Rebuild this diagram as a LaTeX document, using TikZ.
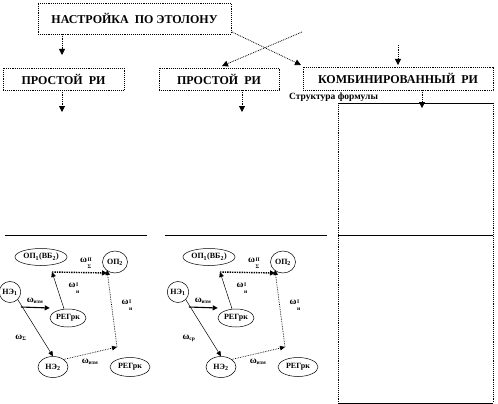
\documentclass[tikz,border=0pt]{standalone}
\usepackage{fontspec}
\setmainfont{Liberation Serif}
\usetikzlibrary{arrows.meta,shapes.geometric}
\newcommand\om[2]{\mbox{ω}\hspace{0.4pt}\raisebox{-2.6pt}{\fontsize{5.5}{7}\selectfont\begin{tabular}{@{}l@{}}#1\\#2\end{tabular}}}
\newcommand\oms[1]{\mbox{ω}\textsubscript{\fontsize{5.5}{5.5}\selectfont #1}}
\tikzset{
 box/.style={draw, densely dotted, line width=0.9pt, font=\bfseries\fontsize{12}{12}\selectfont, inner sep=0pt},
 arr/.style={densely dotted, line width=0.8pt, -{Triangle[length=6pt,width=6pt]}},
 gn/.style={draw, ellipse, line width=0.5pt, inner sep=0pt, font=\bfseries\fontsize{8}{8}\selectfont},
 ga/.style={line width=0.5pt, -{Triangle[length=5pt,width=4.5pt]}},
 gd/.style={densely dotted, line width=0.7pt, -{Triangle[length=5pt,width=4.5pt]}},
 gthick/.style={line width=1.1pt, -{Triangle[length=5pt,width=5pt]}},
 gthickd/.style={densely dotted, line width=1.4pt, -{Triangle[length=5pt,width=5pt]}},
 lb/.style={font=\bfseries\fontsize{9.5}{9.5}\selectfont, inner sep=0pt},
 solidln/.style={line width=0.9pt},
 dotln/.style={densely dotted, line width=0.9pt},
}
\begin{document}
\begin{tikzpicture}[x=1pt,y=-1pt]
\useasboundingbox (0,0) rectangle (498,404);
% top boxes
\node[box, minimum width=193pt, minimum height=31pt] (top) at (134.5,18.5) {НАСТРОЙКА\ \ ПО ЭТОЛОНУ};
\node[box, minimum width=121pt, minimum height=22pt] (b1) at (63.5,79) {ПРОСТОЙ\ \ РИ};
\node[box, minimum width=120pt, minimum height=22pt] (b2) at (219,79) {ПРОСТОЙ\ \ РИ};
\node[box, minimum width=190pt, minimum height=23pt] (b3) at (398,78.5) {КОМБИНИРОВАННЫЙ\ \ РИ};
\node[lb, font=\bfseries\fontsize{9.5}{9.5}\selectfont, anchor=west] (struct) at (289,97) {Структура формулы};
% arrow coordinates
\coordinate (a1s) at (62,34);
\coordinate (a1e) at (62,55);
\coordinate (a2s) at (62,90);
\coordinate (a2e) at (62,112);
\coordinate (a3s) at (242,90);
\coordinate (a3e) at (242,112);
\coordinate (c1s) at (232,32);
\coordinate (c1e) at (301,65);
\coordinate (c2s) at (302,32);
\coordinate (c2e) at (222,66);
\coordinate (a4s) at (398,45);
\coordinate (a4e) at (398,65);
\coordinate (a5s) at (422,90);
\coordinate (a5e) at (422,108);
\draw[arr] (a1s) -- (a1e);
\draw[arr] (a2s) -- (a2e);
\draw[arr] (a3s) -- (a3e);
\draw[arr] (c1s) -- (c1e);
\draw[arr] (c2s) -- (c2e);
\draw[arr] (a4s) -- (a4e);
\draw[arr] (a5s) -- (a5e);
% big right rectangle
\coordinate (r1) at (338,103);
\coordinate (r2) at (493,103);
\coordinate (r3) at (338,235);
\coordinate (r4) at (493,235);
\coordinate (r5) at (338,403);
\coordinate (r6) at (493,403);
\draw[solidln] (r1) -- (r2);
\draw[solidln] (r3) -- (r4);
\draw[solidln] (r5) -- (r6);
\draw[dotln] (r1) -- (r5);
\draw[dotln] (r2) -- (r6);
% left separator lines
\coordinate (h1a) at (5,235);
\coordinate (h1b) at (147,235);
\coordinate (h2a) at (165,235);
\coordinate (h2b) at (327,235);
\draw[solidln] (h1a) -- (h1b);
\draw[solidln] (h2a) -- (h2b);
% graphs
\foreach \dx/\s/\lab in {0/a/Σ,168/b/ср}{
 \begin{scope}[xshift=\dx pt]
  \node[gn, minimum width=52pt, minimum height=17pt] (op1\s) at (41,257) {ОП\textsubscript{1}(ВБ\textsubscript{2})};
  \node[gn, minimum width=25pt, minimum height=22pt] (op2\s) at (115,262) {ОП\textsubscript{2}};
  \node[gn, minimum width=19pt, minimum height=21pt] (ne1\s) at (10,292) {НЭ\textsubscript{1}};
  \node[gn, minimum width=36pt, minimum height=18pt] (reg1\s) at (68,318) {РЕГрк};
  \node[gn, minimum width=30pt, minimum height=21pt] (ne2\s) at (53,367) {НЭ\textsubscript{2}};
  \node[gn, minimum width=40pt, minimum height=19pt] (reg2\s) at (130,367) {РЕГрк};
  \coordinate (p1\s) at (52,272);
  \coordinate (p2\s) at (107,273);
  \coordinate (p3\s) at (117,347);
  \draw[gthick] (ne1\s.east |- 0,307) -- (reg1\s.west |- 0,308);
  \draw[ga] (reg1\s.north) ++(-4,0) -- (p1\s);
  \draw[gthickd] (p1\s) -- (p2\s);
  \draw[ga] (ne1\s.south east) -- (ne2\s.north);
  \draw[gd] (ne2\s.north east) -- (p3\s);
  \draw[gd] (p3\s) -- ([yshift=3pt]p2\s);
  \node[lb] (l1\s) at (35,301) {\oms{изм}};
  \node[lb] (l2\s) at (74,289) {\om{I}{и}};
  \node[lb] (l3\s) at (86,264) {\om{II}{Σ}};
  \node[lb] (l4\s) at (21,338) {\oms{\lab}};
  \node[lb] (l5\s) at (90,362) {\oms{изм}};
  \node[lb] (l6\s) at (127,306) {\om{I}{и}};
 \end{scope}
}
\end{tikzpicture}
\end{document}
